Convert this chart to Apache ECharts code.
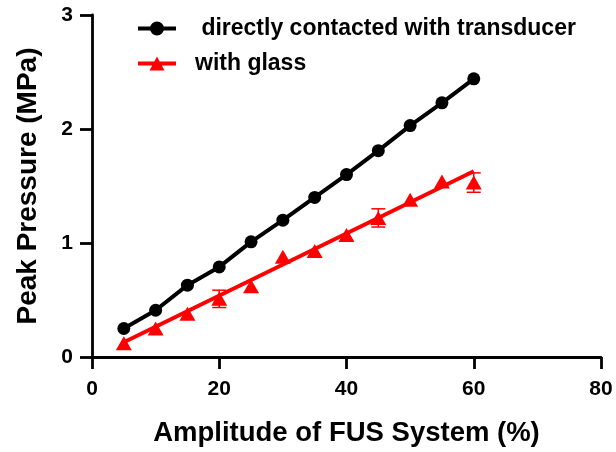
<!DOCTYPE html>
<html>
<head>
<meta charset="utf-8">
<script src="https://cdn.jsdelivr.net/npm/echarts@6/dist/echarts.min.js"></script>
<style>
  html, body { margin: 0; padding: 0; background: #fff; }
  #chart { width: 616px; height: 452px; }
</style>
</head>
<body>
<div id="chart"></div>
<script>
// Driving amplitude of the FUS system (%)
const amplitudes = [5, 10, 15, 20, 25, 30, 35, 40, 45, 50, 55, 60];

// Peak pressure (MPa), hydrophone directly against the transducer
const directPressure = [0.25, 0.41, 0.63, 0.79, 1.01, 1.20, 1.40, 1.60, 1.81, 2.03, 2.23, 2.44];

// Peak pressure (MPa) measured through the glass, with its standard deviation
// (deviations too small to show beyond the marker are left at 0)
const glassPressure = [0.12, 0.25, 0.38, 0.51, 0.62, 0.88, 0.93, 1.07, 1.22, 1.38, 1.54, 1.53];
const glassError    = [0, 0, 0, 0.076, 0, 0, 0, 0, 0.08, 0, 0, 0.085];

// Linear fit through the glass measurements (end points)
const glassFitX = [5, 60];
const glassFitY = [0.13, 1.63];

// Axis ticks
const xTicks = [0, 20, 40, 60, 80];
const yTicks = [0, 1, 2, 3];

const seriesNames = [' directly contacted with transducer', 'with glass'];

const FONT = 'Liberation Sans, Arial, sans-serif';
const RED = '#ff0000';

// Legend keys: a thick line crossed by the series marker
const ICON_CIRCLE = 'path://M0 5H38V9H0Z M12 7A7 7 0 1 1 26 7A7 7 0 1 1 12 7Z';
const ICON_TRIANGLE = 'path://M0 5H38V9H0Z M19 0L26.5 14L11.5 14Z';

const directData = amplitudes.map((x, i) => [x, directPressure[i]]);
const glassData = amplitudes.map((x, i) => [x, glassPressure[i]]);
const glassBars = amplitudes
  .map((x, i) => [x, glassPressure[i] - glassError[i], glassPressure[i] + glassError[i], glassError[i]])
  .filter(d => d[3] > 0);
const glassFit = glassFitX.map((x, i) => [x, glassFitY[i]]);

const chart = echarts.init(document.getElementById('chart'));

const axisCommon = {
  type: 'value',
  nameLocation: 'middle',
  nameTextStyle: { fontFamily: FONT, fontWeight: 'bold', fontSize: 28, color: '#000' },
  axisLine: { show: true, onZero: false, lineStyle: { color: '#000', width: 2.8 } },
  axisTick: { show: true, inside: false, length: 12, lineStyle: { color: '#000', width: 2.8 } },
  splitLine: { show: false },
  axisLabel: { fontFamily: FONT, fontWeight: 'bold', fontSize: 21, color: '#000' }
};

chart.setOption({
  animation: false,
  backgroundColor: '#fff',
  grid: { left: 92, right: 15, top: 15, bottom: 95, containLabel: false },
  legend: {
    orient: 'vertical',
    left: 133,
    top: 12,
    itemWidth: 38,
    itemHeight: 14,
    itemGap: 12,
    selectedMode: false,
    data: [
      { name: seriesNames[0], icon: ICON_CIRCLE, itemStyle: { color: '#000' } },
      { name: seriesNames[1], icon: ICON_TRIANGLE, itemStyle: { color: RED } }
    ],
    textStyle: { fontFamily: FONT, fontWeight: 'bold', fontSize: 23, color: '#000', padding: [0, 0, 0, 14] }
  },
  xAxis: Object.assign({}, axisCommon, {
    name: 'Amplitude of FUS System (%)',
    nameGap: 62,
    nameTextStyle: Object.assign({}, axisCommon.nameTextStyle, { fontSize: 27.5 }),
    min: xTicks[0],
    max: xTicks[xTicks.length - 1],
    interval: xTicks[1] - xTicks[0],
    axisLabel: Object.assign({}, axisCommon.axisLabel, { margin: 22 })
  }),
  yAxis: Object.assign({}, axisCommon, {
    name: 'Peak Pressure (MPa)',
    nameGap: 50,
    min: yTicks[0],
    max: yTicks[yTicks.length - 1],
    interval: yTicks[1] - yTicks[0],
    axisLabel: Object.assign({}, axisCommon.axisLabel, { margin: 19 })
  }),
  series: [
    {
      name: seriesNames[0],
      type: 'line',
      data: directData,
      symbol: 'circle',
      symbolSize: 13,
      showAllSymbol: true,
      itemStyle: { color: '#000', opacity: 1 },
      lineStyle: { color: '#000', width: 4 },
      z: 3
    },
    {
      // error bars of the glass measurements, drawn beneath the markers
      type: 'custom',
      data: glassBars,
      encode: { x: 0, y: [1, 2] },
      renderItem: function (params, api) {
        const x = api.value(0);
        const lo = api.coord([x, api.value(1)]);
        const hi = api.coord([x, api.value(2)]);
        const half = 7;
        const style = { stroke: RED, lineWidth: 1.5 };
        return {
          type: 'group',
          children: [
            { type: 'line', shape: { x1: lo[0], y1: lo[1], x2: hi[0], y2: hi[1] }, style: style },
            { type: 'line', shape: { x1: lo[0] - half, y1: lo[1], x2: lo[0] + half, y2: lo[1] }, style: style },
            { type: 'line', shape: { x1: hi[0] - half, y1: hi[1], x2: hi[0] + half, y2: hi[1] }, style: style }
          ]
        };
      },
      z: 1
    },
    {
      name: seriesNames[1],
      type: 'line',
      data: glassFit,
      symbol: 'triangle',
      showSymbol: false,
      itemStyle: { color: RED },
      lineStyle: { color: RED, width: 4 },
      z: 2
    },
    {
      type: 'scatter',
      data: glassData,
      symbol: 'triangle',
      symbolSize: [16, 14],
      itemStyle: { color: RED, opacity: 1 },
      z: 2
    }
  ]
});
</script>
</body>
</html>
